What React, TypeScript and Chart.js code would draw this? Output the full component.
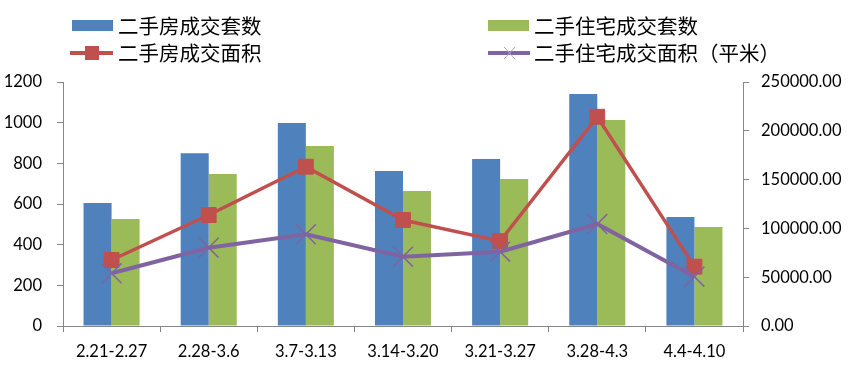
import React, { useEffect, useRef } from "react";
import { Chart, registerables } from "chart.js";

Chart.register(...registerables);

const categories = ["2.21-2.27", "2.28-3.6", "3.7-3.13", "3.14-3.20", "3.21-3.27", "3.28-4.3", "4.4-4.10"];
const houseDeals = [605, 850, 998, 762, 821, 1141, 536];
const residenceDeals = [526, 748, 885, 664, 723, 1013, 487];
const houseArea = [67600, 113700, 163200, 108600, 87000, 214400, 60800];
const residenceArea = [54000, 80200, 94000, 71000, 76100, 104500, 50500];
const leftTicks = [0, 200, 400, 600, 800, 1000, 1200];
const rightTicks = [0, 50000, 100000, 150000, 200000, 250000];

const labels = ["二手房成交套数", "二手住宅成交套数", "二手房成交面积", "二手住宅成交面积（平米）"];

const BLUE = "#4F81BD";
const GREEN = "#9BBB59";
const RED = "#C0504D";
const PURPLE = "#8064A2";
const AXIS = "#868686";
const TICK_FONT = { family: "Lato", size: 16.5 };

const legendPlugin = {
  id: "customLegend",
  afterDraw(chart: any) {
    const ctx = chart.ctx as CanvasRenderingContext2D;
    const slots = [
      [72, 26],
      [488, 26],
      [72, 53],
      [488, 53],
    ];
    ctx.save();
    ctx.font = '20.5px "Noto Sans CJK SC"';
    ctx.textBaseline = "middle";
    ctx.fillStyle = "#000";
    labels.forEach((lab, i) => {
      const [x, y] = slots[i];
      if (i === 0 || i === 1) {
        ctx.fillStyle = i === 0 ? BLUE : GREEN;
        ctx.fillRect(x, y - 6, 41, 11);
      } else if (i === 2) {
        ctx.strokeStyle = RED;
        ctx.lineWidth = 4;
        ctx.beginPath();
        ctx.moveTo(x - 2, y);
        ctx.lineTo(x + 41, y);
        ctx.stroke();
        ctx.fillStyle = RED;
        ctx.fillRect(x + 13, y - 7, 14, 14);
      } else {
        ctx.strokeStyle = PURPLE;
        ctx.lineWidth = 4;
        ctx.beginPath();
        ctx.moveTo(x, y);
        ctx.lineTo(x + 42, y);
        ctx.stroke();
        ctx.strokeStyle = "#B3A2C7";
        ctx.lineWidth = 1;
        ctx.beginPath();
        ctx.moveTo(x + 16, y - 6);
        ctx.lineTo(x + 27, y + 6);
        ctx.moveTo(x + 27, y - 6);
        ctx.lineTo(x + 16, y + 6);
        ctx.stroke();
      }
      ctx.fillStyle = "#000";
      ctx.fillText(lab, x + 46, y);
    });
    ctx.restore();
  },
};

export default function App() {
  const ref = useRef<HTMLCanvasElement | null>(null);
  useEffect(() => {
    if (!ref.current) return;
    const chart = new Chart(ref.current, {
      type: "bar",
      data: {
        labels: categories,
        datasets: [
          {
            type: "bar",
            label: labels[0],
            data: houseDeals,
            backgroundColor: BLUE,
            yAxisID: "y",
            order: 2,
            categoryPercentage: 0.577,
            barPercentage: 1,
          },
          {
            type: "bar",
            label: labels[1],
            data: residenceDeals,
            backgroundColor: GREEN,
            yAxisID: "y",
            order: 2,
            categoryPercentage: 0.577,
            barPercentage: 1,
          },
          {
            type: "line",
            label: labels[2],
            data: houseArea,
            borderColor: RED,
            backgroundColor: RED,
            borderWidth: 3.5,
            pointStyle: "rect",
            pointRadius: 10.5,
            pointBackgroundColor: RED,
            pointBorderColor: RED,
            pointBorderWidth: 1,
            yAxisID: "y1",
            order: 1,
            tension: 0,
          },
          {
            type: "line",
            label: labels[3],
            data: residenceArea,
            borderColor: PURPLE,
            backgroundColor: PURPLE,
            borderWidth: 4,
            pointStyle: "crossRot",
            pointRadius: 14,
            pointBorderColor: PURPLE,
            pointBorderWidth: 1.5,
            yAxisID: "y1",
            order: 0,
            tension: 0,
          },
        ],
      } as any,
      options: {
        responsive: false,
        animation: false,
        layout: { padding: { top: 82, left: 0, right: 0, bottom: 0 } },
        plugins: { legend: { display: false }, tooltip: { enabled: false } },
        scales: {
          x: {
            grid: { drawOnChartArea: false, tickLength: 6, color: AXIS, offset: true },
            border: { color: AXIS },
            ticks: { font: TICK_FONT, color: "#000", padding: 10, maxRotation: 0 },
            afterFit: (s: any) => {
              s.height = 48;
            },
          },
          y: {
            position: "left",
            min: 0,
            max: 1200,
            afterBuildTicks: (s: any) => {
              s.ticks = leftTicks.map((v) => ({ value: v }));
            },
            grid: { drawOnChartArea: false, tickLength: 6, color: AXIS },
            border: { color: AXIS },
            ticks: { font: TICK_FONT, color: "#000", padding: 15, callback: (v: any) => String(v) },
            afterFit: (s: any) => {
              s.width = 63;
            },
          },
          y1: {
            position: "right",
            min: 0,
            max: 250000,
            afterBuildTicks: (s: any) => {
              s.ticks = rightTicks.map((v) => ({ value: v }));
            },
            grid: { drawOnChartArea: false, tickLength: 6, color: AXIS },
            border: { color: AXIS },
            ticks: {
              font: TICK_FONT,
              color: "#000",
              padding: 12,
              callback: (v: any) => Number(v).toFixed(2),
            },
            afterFit: (s: any) => {
              s.width = 109;
            },
          },
        },
      } as any,
      plugins: [legendPlugin],
    });
    return () => chart.destroy();
  }, []);
  return (
    <div style={{ position: "absolute", left: 0, top: 0, width: 852, height: 374, background: "#fff" }}>
      <canvas ref={ref} width={852} height={374} style={{ display: "block" }} />
    </div>
  );
}
